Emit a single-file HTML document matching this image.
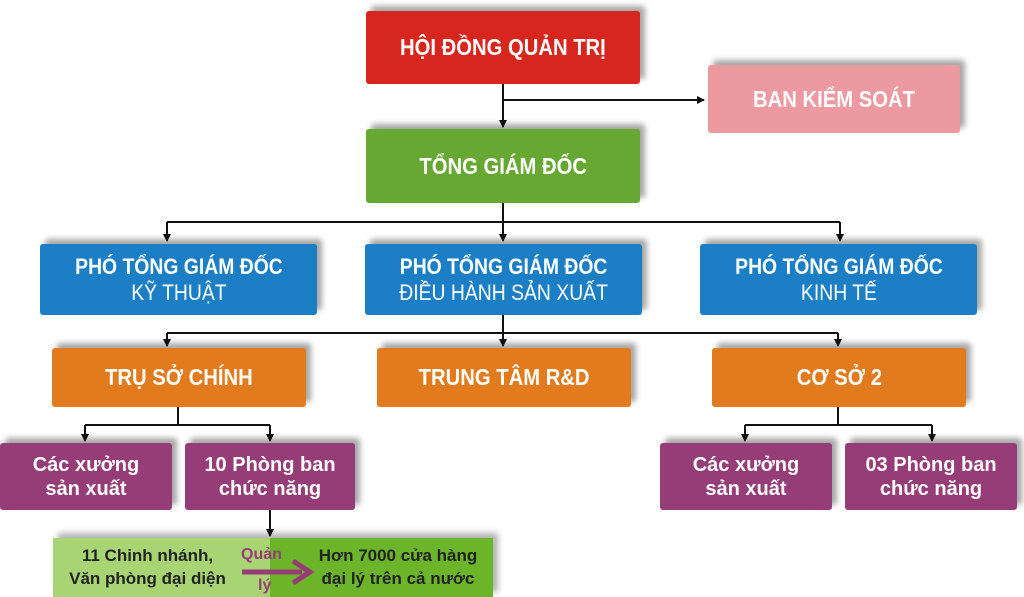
<!DOCTYPE html>
<html><head><meta charset="utf-8"><style>
body{margin:0;width:1024px;height:597px;background:#fff;position:relative;overflow:hidden;font-family:"Liberation Sans",sans-serif}
.b{position:absolute;color:#fff;display:flex;align-items:center;justify-content:center;text-align:center;border-radius:3px;box-shadow:5px -5px 6px rgba(0,0,0,.35)}
.n{font-size:23px;font-weight:bold}
.n>div{transform:scaleX(.88);white-space:nowrap}
.r{background:#d7261e}.pk{background:#ec9aa0}.g{background:#66a832}.bl{background:#1c7fc5}.o{background:#e27b1d}.p{background:#963d78;font-weight:bold;font-size:20px;line-height:24px}
.sub{font-weight:normal}
svg{position:absolute;left:0;top:0}
</style></head><body>
<svg width="1024" height="597">
<defs><marker id="a" markerWidth="8" markerHeight="8" refX="7" refY="4" orient="auto" markerUnits="userSpaceOnUse"><path d="M0,0 L8,4 L0,8z" fill="#111"/></marker></defs>
<g stroke="#111" stroke-width="2" fill="none">
<path d="M503 84V127" marker-end="url(#a)"/>
<path d="M503 100H704" marker-end="url(#a)"/>
<path d="M503 203V222M167 222H840"/>
<path d="M167 222V241" marker-end="url(#a)"/><path d="M503 222V241" marker-end="url(#a)"/><path d="M840 222V241" marker-end="url(#a)"/>
<path d="M503 315V333M167 333H838"/>
<path d="M167 333V346" marker-end="url(#a)"/><path d="M503 333V346" marker-end="url(#a)"/><path d="M838 333V346" marker-end="url(#a)"/>
<path d="M178 407V425M85 425H270"/>
<path d="M85 425V441" marker-end="url(#a)"/><path d="M270 425V441" marker-end="url(#a)"/>
<path d="M838 407V425M745 425H932"/>
<path d="M745 425V441" marker-end="url(#a)"/><path d="M932 425V441" marker-end="url(#a)"/>
<path d="M270 510V536" marker-end="url(#a)"/>
</g></svg>
<div class="b r n" style="left:366px;top:11px;width:274px;height:73px"><div>HỘI ĐỒNG QUẢN TRỊ</div></div>
<div class="b pk n" style="left:708px;top:65px;width:252px;height:68px"><div>BAN KIỂM SOÁT</div></div>
<div class="b g n" style="left:366px;top:129px;width:274px;height:74px"><div>TỔNG GIÁM ĐỐC</div></div>
<div class="b bl n" style="left:40px;top:244px;width:277px;height:71px;line-height:26px;font-size:22px"><div>PHÓ TỔNG GIÁM ĐỐC<br><span class="sub">KỸ THUẬT</span></div></div>
<div class="b bl n" style="left:365px;top:244px;width:277px;height:71px;line-height:26px;font-size:22px"><div>PHÓ TỔNG GIÁM ĐỐC<br><span class="sub">ĐIỀU HÀNH SẢN XUẤT</span></div></div>
<div class="b bl n" style="left:700px;top:244px;width:277px;height:71px;line-height:26px;font-size:22px"><div>PHÓ TỔNG GIÁM ĐỐC<br><span class="sub">KINH TẾ</span></div></div>
<div class="b o n" style="left:52px;top:348px;width:254px;height:59px"><div>TRỤ SỞ CHÍNH</div></div>
<div class="b o n" style="left:377px;top:348px;width:254px;height:59px"><div>TRUNG TÂM R&amp;D</div></div>
<div class="b o n" style="left:712px;top:348px;width:254px;height:59px"><div>CƠ SỞ 2</div></div>
<div class="b p" style="left:0;top:443px;width:172px;height:67px"><div>Các xưởng<br>sản xuất</div></div>
<div class="b p" style="left:185px;top:443px;width:170px;height:67px"><div>10 Phòng ban<br>chức năng</div></div>
<div class="b p" style="left:660px;top:443px;width:172px;height:67px"><div>Các xưởng<br>sản xuất</div></div>
<div class="b p" style="left:845px;top:443px;width:172px;height:67px"><div>03 Phòng ban<br>chức năng</div></div>
<div style="position:absolute;left:53px;top:538px;width:440px;height:59px;background:linear-gradient(90deg,#a8d473 0,#a8d473 217px,#6cb42a 217px);box-shadow:5px -5px 6px rgba(0,0,0,.3)"></div>
<div style="position:absolute;left:55px;top:544px;width:185px;text-align:center;font-weight:bold;font-size:17px;line-height:23px;color:#222">11 Chinh nhánh,<br>Văn phòng đại diện</div>
<div style="position:absolute;left:303px;top:544px;width:190px;text-align:center;font-weight:bold;font-size:17px;line-height:23px;color:#222">Hơn 7000 cửa hàng<br>đại lý trên cả nước</div>
<div style="position:absolute;left:241px;top:546px;font-weight:bold;font-size:16px;color:#963d78">Quản</div>
<div style="position:absolute;left:258px;top:577px;font-weight:bold;font-size:16px;color:#963d78">lý</div>
<svg width="1024" height="597" style="pointer-events:none"><path d="M242 572H302" stroke="#963d78" stroke-width="5"/><path d="M293 561L310 572L293 583" stroke="#963d78" stroke-width="5" fill="none"/></svg>
</body></html>
